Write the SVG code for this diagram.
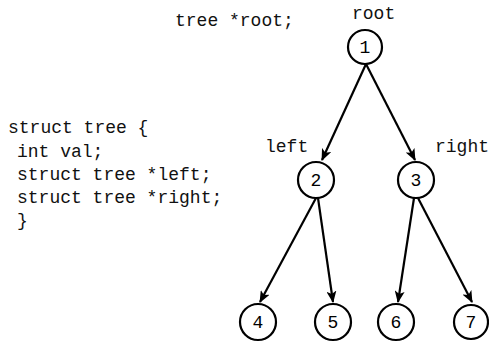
<svg xmlns="http://www.w3.org/2000/svg" width="489" height="344" viewBox="0 0 489 344">
  <style>
    .code { font-family: "Liberation Mono", "Courier New", monospace; font-size: 18px; fill: #111; }
    .node circle { fill: #fff; stroke: #000; stroke-width: 2.2; }
    .node text { font-family: "Liberation Mono", "Courier New", monospace; font-size: 18px; fill: #000; text-anchor: middle; }
    .edge { stroke: #000; stroke-width: 2.2; fill: none; marker-end: url(#arrow); }
  </style>
  <defs>
    <marker id="arrow" markerUnits="userSpaceOnUse" markerWidth="12" markerHeight="10" refX="11" refY="5" orient="auto">
      <path d="M0,0 L12,5 L0,10 L3,5 Z" fill="#000"/>
    </marker>
  </defs>
  <rect width="489" height="344" fill="#fff"/>

  <!-- declarations -->
  <text class="code" x="175" y="26">tree *root;</text>
  <text class="code" x="8" y="133">struct tree {</text>
  <text class="code" x="17" y="157">int val;</text>
  <text class="code" x="17" y="180">struct tree *left;</text>
  <text class="code" x="17" y="203">struct tree *right;</text>
  <text class="code" x="17" y="226">}</text>

  <!-- pointer labels -->
  <text class="code" x="352" y="19">root</text>
  <text class="code" x="265" y="152">left</text>
  <text class="code" x="435" y="152">right</text>

  <!-- connectors -->
  <g id="edges">
    <line class="edge" x1="366" y1="64" x2="322" y2="160"/>
    <line class="edge" x1="366" y1="64" x2="415" y2="160"/>
    <line class="edge" x1="316" y1="198" x2="260" y2="302"/>
    <line class="edge" x1="318" y1="198" x2="333" y2="302"/>
    <line class="edge" x1="414" y1="198" x2="398" y2="302"/>
    <line class="edge" x1="418" y1="198" x2="472" y2="302"/>
  </g>

  <!-- tree nodes -->
  <g id="n1" class="node"><circle cx="365" cy="47" r="17"/><text x="365" y="53">1</text></g>
  <g id="n2" class="node"><circle cx="316" cy="180" r="18"/><text x="316" y="186">2</text></g>
  <g id="n3" class="node"><circle cx="416" cy="180" r="18"/><text x="416" y="186">3</text></g>
  <g id="n4" class="node"><circle cx="258" cy="322" r="18"/><text x="258" y="328">4</text></g>
  <g id="n5" class="node"><circle cx="333" cy="322" r="18"/><text x="333" y="328">5</text></g>
  <g id="n6" class="node"><circle cx="396" cy="322" r="18"/><text x="396" y="328">6</text></g>
  <g id="n7" class="node"><circle cx="471" cy="322" r="17"/><text x="471" y="328">7</text></g>
</svg>
